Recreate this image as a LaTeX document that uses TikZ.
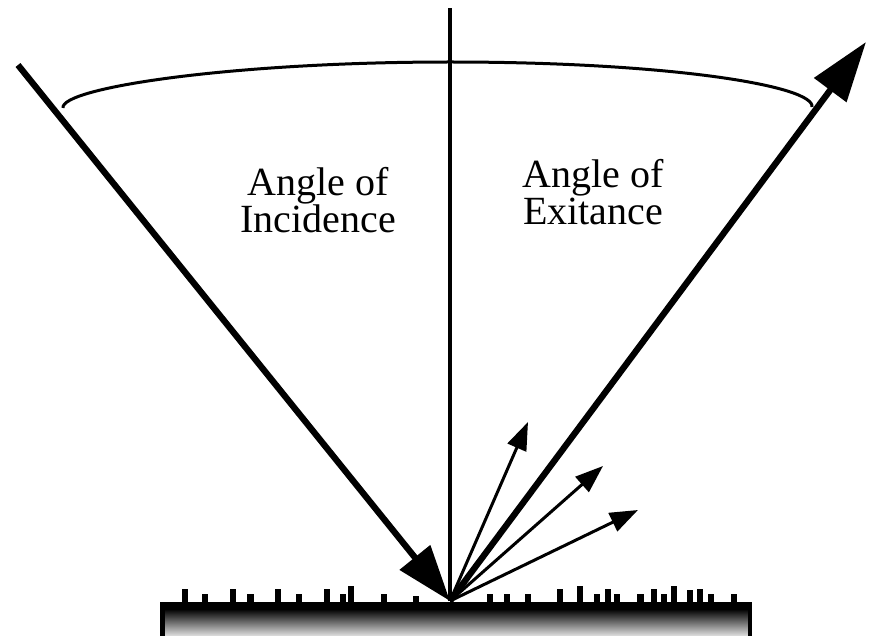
\documentclass[tikz,border=0pt]{standalone}
\usepackage{fontspec}
\setmainfont{Liberation Serif}
\usetikzlibrary{arrows.meta}
\tikzset{
  mainray/.style={line width=6.3pt},
  normalline/.style={line width=4.2pt},
  scatterray/.style={line width=3pt,-{Triangle[length=28pt,width=20pt]}},
  anglearc/.style={line width=3pt},
  label/.style={inner sep=0pt,align=center,font=\fontsize{40}{37}\selectfont},
  tick/.style={fill=black},
}
\begin{document}
\begin{tikzpicture}[x=1pt,y=-1pt]
\useasboundingbox (0,0) rectangle (877,636);
% key points
\coordinate (P) at (450,601);
\coordinate (incstart) at (18,65);
\coordinate (exittip) at (866,42);
\coordinate (ntop) at (450,8);
\coordinate (s1) at (528,422);
\coordinate (s2) at (603,466);
\coordinate (s3) at (638,510);
\coordinate (arcL) at (63,108);
\coordinate (arcT) at (450,62);
\coordinate (arcR) at (812,107);
% surface block
\shade[top color=black,bottom color=black!12] (162,609) rectangle (750,636);
\fill[black] (160,601.5) rectangle (752,610);
\fill[black] (160,601.5) rectangle (165,636);
\fill[black] (748,601.5) rectangle (752,636);
% surface ticks
\foreach \x/\h in {185/13,205/8.5,233/13,250.5/8.5,278/13,299/8.5,327/13,343/8.5,351/16,384/8.5,416/6,
                   490/8.5,507/8.5,528/8.5,560/13,580/16,597/8.5,608/13,617/8.5,640.5/8.5,654/13,664/8.5,674/16,690/12,700/13,711/8.5,734/8.5}
  \fill[tick] (\x-3.2,602) rectangle (\x+3.2,602-\h);
% normal
\draw[normalline] (P) -- (ntop);
% angle arc
\draw[anglearc] (arcL) .. controls (60,88) and (230,62) .. (arcT)
                       .. controls (670,62) and (815,86) .. (arcR);
% incident and exitant rays
\draw[mainray,-{Triangle[length=56pt,width=38pt]}] (incstart) -- (P);
\draw[mainray,-{Triangle[length=60pt,width=39pt]}] (P) -- (exittip);
% scattered rays
\draw[scatterray] (P) -- (s1);
\draw[scatterray] (P) -- (s2);
\draw[scatterray] (P) -- (s3);
% labels
\node[label] (inc) at (318,200) {Angle of\\Incidence};
\node[label] (exi) at (593,192) {Angle of\\Exitance};
\end{tikzpicture}
\end{document}
